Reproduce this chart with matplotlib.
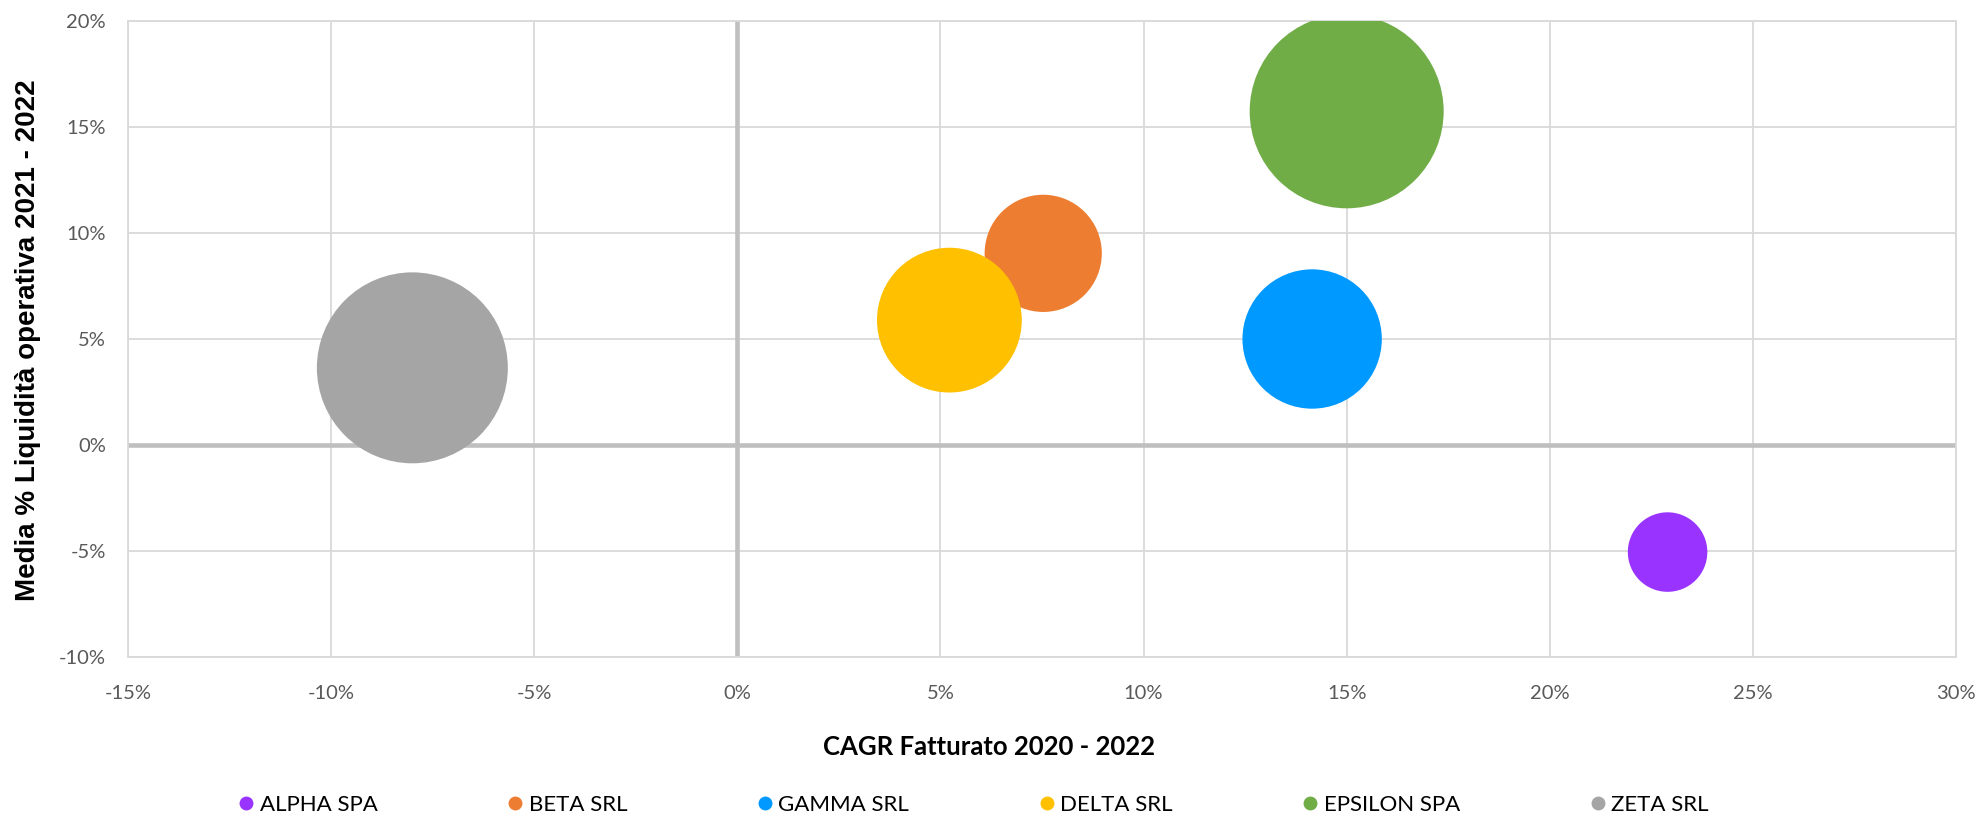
import matplotlib.pyplot as plt
import numpy as np
from matplotlib.lines import Line2D
from matplotlib.ticker import PercentFormatter, MultipleLocator

plt.rcParams['axes.unicode_minus'] = False

companies = ['ALPHA SPA', 'BETA SRL', 'GAMMA SRL', 'DELTA SRL', 'EPSILON SPA', 'ZETA SRL']
cagr_fatturato = [0.229, 0.0753, 0.1415, 0.0522, 0.150, -0.080]
liquidita_media = [-0.0505, 0.0904, 0.050, 0.0589, 0.1574, 0.0364]
fatturato = [16.8, 36.5, 51.6, 55.7, 100.0, 96.9]
colors = ['#9933FF', '#ED7D31', '#0099FF', '#FFC000', '#70AD47', '#A5A5A5']

DPI = 100
fig = plt.figure(figsize=(19.82, 8.15), dpi=DPI)
ax = fig.add_axes([128 / 1982, 1 - 657 / 815, 1828 / 1982, 636 / 815])

# bubble area proportional to revenue, largest bubble ~97 px radius
max_r_pt = 97 * 72 / DPI
sizes = np.array(fatturato) / max(fatturato) * (2 * max_r_pt) ** 2

for i in range(len(companies)):
    ax.scatter(cagr_fatturato[i], liquidita_media[i], s=sizes[i], color=colors[i],
               edgecolors='none', zorder=3)

ax.set_xlim(-0.15, 0.30)
ax.set_ylim(-0.10, 0.20)
ax.xaxis.set_major_locator(MultipleLocator(0.05))
ax.yaxis.set_major_locator(MultipleLocator(0.05))
ax.xaxis.set_major_formatter(PercentFormatter(1.0, decimals=0))
ax.yaxis.set_major_formatter(PercentFormatter(1.0, decimals=0))

ax.grid(True, color='#D9D9D9', linewidth=1.3, zorder=0)
ax.set_axisbelow(True)
for sp in ax.spines.values():
    sp.set_color('#D9D9D9')
    sp.set_linewidth(1.3)

# quadrant lines through zero
ax.axhline(0, color='#BFBFBF', linewidth=3.3, zorder=1)
ax.axvline(0, color='#BFBFBF', linewidth=3.3, zorder=1)

ax.tick_params(axis='both', length=0, labelcolor='#595959', labelsize=14.5)
ax.tick_params(axis='x', pad=20)
ax.tick_params(axis='y', pad=16)
for lab in ax.get_xticklabels() + ax.get_yticklabels():
    lab.set_fontfamily('Lato')

fig.text(989 / 1982, 1 - 747 / 815, 'CAGR Fatturato 2020 - 2022', ha='center', va='center',
         fontsize=18.5, fontweight='bold', family='Lato')
fig.text(28 / 1982, 1 - 340 / 815, 'Media % Liquidità operativa 2021 - 2022', ha='center',
         va='center', rotation=90, fontsize=20, fontweight='bold', family='Liberation Sans')

handles = [Line2D([], [], marker='o', linestyle='none', markersize=10,
                  markerfacecolor=c, markeredgecolor='none') for c in colors]
fig.legend(handles, companies, loc='center', bbox_to_anchor=(973 / 1982, 1 - 805 / 815),
           ncol=6, frameon=False, prop={'family': 'Lato', 'size': 16},
           handletextpad=0.2, columnspacing=5.8, handlelength=0.8)

fig.savefig('out.png', dpi=DPI)
